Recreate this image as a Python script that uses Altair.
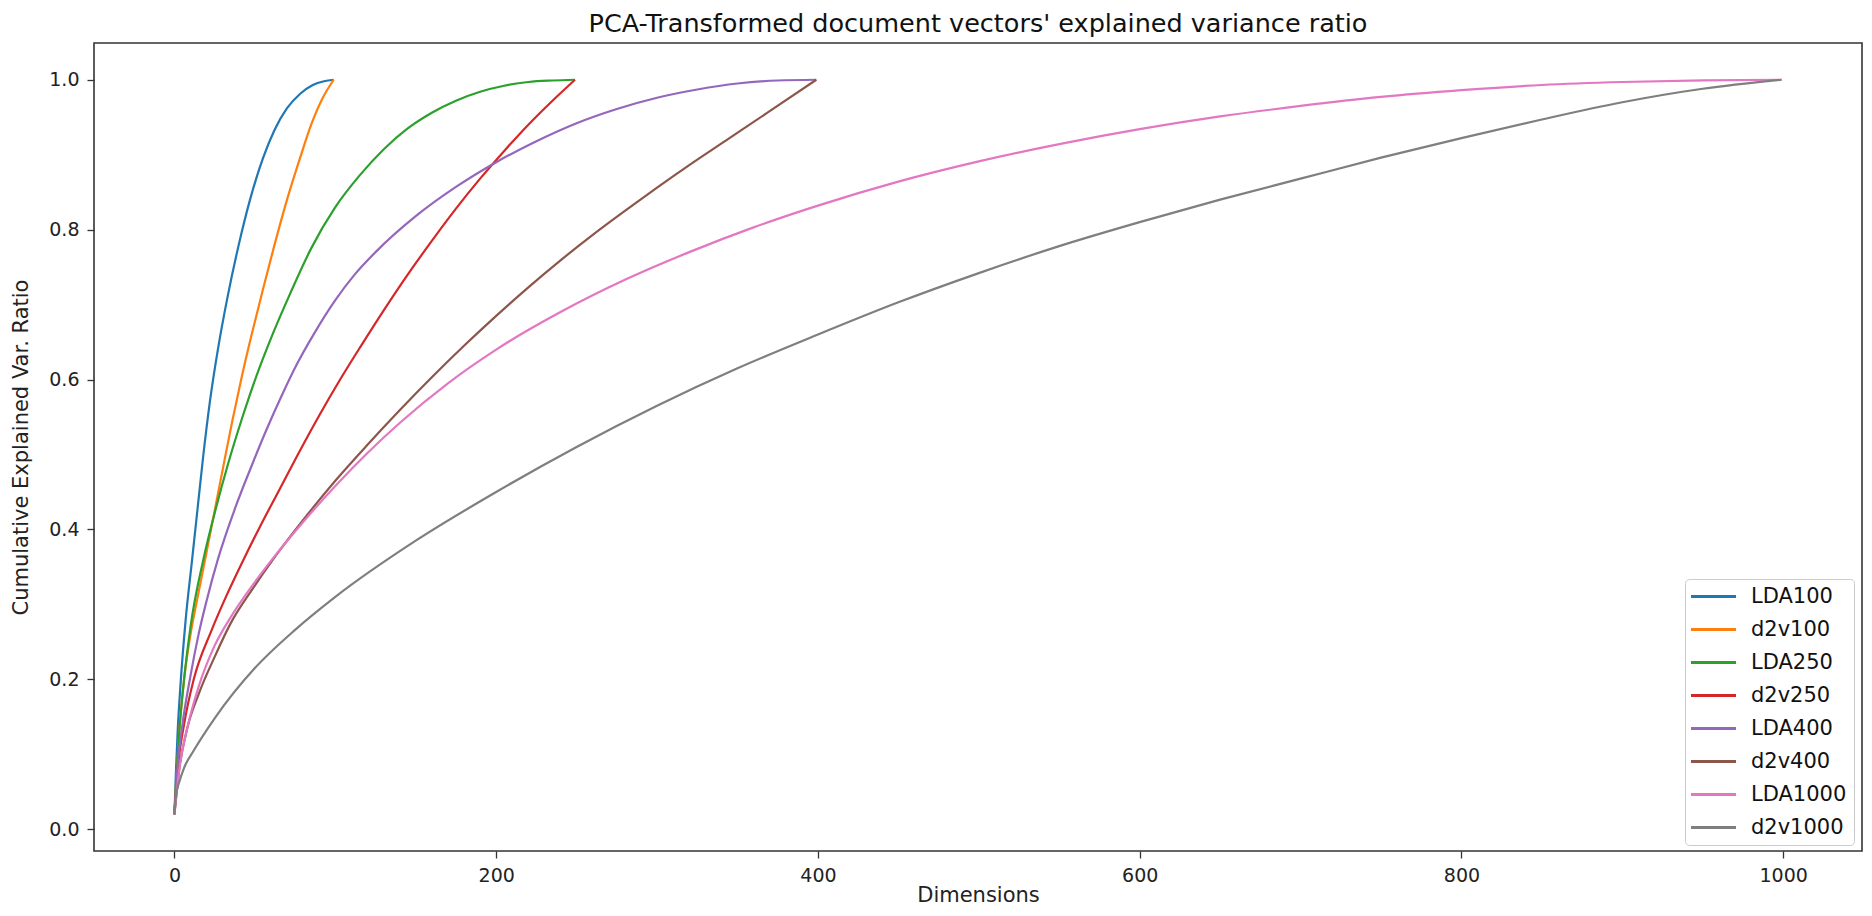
import altair as alt
import pandas as pd

series_names = ["LDA100", "d2v100", "LDA250", "d2v250", "LDA400", "d2v400", "LDA1000", "d2v1000"]
series_colors = ["#1f77b4", "#ff7f0e", "#2ca02c", "#d62728", "#9467bd", "#8c564b", "#e377c2", "#7f7f7f"]

lda100_x = [0, 1, 2, 4, 7, 11, 14, 18, 22, 27, 33, 40, 47, 55, 62, 70, 78, 86, 93, 99]
lda100_y = [0.02, 0.08, 0.13, 0.20, 0.28, 0.36, 0.42, 0.50, 0.57, 0.64, 0.71, 0.78, 0.84, 0.895, 0.932, 0.962, 0.981, 0.993, 0.998, 1.0]

d2v100_x = [0, 1, 3, 6, 10, 14, 20, 25, 30, 36, 42, 48, 55, 62, 70, 78, 85, 92, 99]
d2v100_y = [0.02, 0.06, 0.13, 0.20, 0.26, 0.305, 0.37, 0.425, 0.48, 0.545, 0.605, 0.66, 0.72, 0.778, 0.84, 0.895, 0.94, 0.975, 1.0]

lda250_x = [0, 1, 3, 6, 10, 18, 26, 33, 42, 51, 60, 72, 85, 100, 115, 130, 145, 160, 175, 190, 205, 220, 235, 249]
lda250_y = [0.02, 0.06, 0.13, 0.20, 0.27, 0.36, 0.43, 0.485, 0.548, 0.605, 0.655, 0.715, 0.775, 0.83, 0.872, 0.907, 0.935, 0.956, 0.972, 0.984, 0.992, 0.997, 0.999, 1.0]

d2v250_x = [0, 2, 6, 12, 23, 32, 43, 53, 65, 78, 90, 103, 116, 130, 145, 160, 175, 190, 205, 220, 235, 249]
d2v250_y = [0.02, 0.08, 0.14, 0.20, 0.265, 0.31, 0.36, 0.403, 0.452, 0.505, 0.552, 0.60, 0.645, 0.692, 0.74, 0.785, 0.828, 0.868, 0.905, 0.94, 0.972, 1.0]

lda400_x = [0, 2, 5, 10, 15, 20, 27, 38, 48, 57, 67, 76, 87, 100, 112, 125, 150, 175, 200, 225, 250, 275, 300, 325, 350, 375, 399]
lda400_y = [0.02, 0.085, 0.14, 0.205, 0.26, 0.305, 0.36, 0.43, 0.485, 0.532, 0.58, 0.62, 0.662, 0.706, 0.74, 0.77, 0.818, 0.857, 0.89, 0.918, 0.942, 0.961, 0.976, 0.987, 0.995, 0.999, 1.0]

d2v400_x = [0, 3, 8, 15, 25, 35, 49, 63, 82, 100, 120, 140, 160, 180, 200, 220, 240, 260, 280, 300, 320, 345, 370, 399]
d2v400_y = [0.02, 0.08, 0.135, 0.18, 0.23, 0.275, 0.322, 0.365, 0.418, 0.465, 0.513, 0.559, 0.603, 0.645, 0.685, 0.723, 0.759, 0.793, 0.825, 0.856, 0.886, 0.922, 0.958, 1.0]

lda1000_x = [0, 3, 8, 15, 25, 35, 45, 60, 80, 100, 120, 140, 170, 200, 240, 280, 320, 360, 400, 450, 500, 550, 600, 650, 700, 750, 800, 850, 900, 950, 999]
lda1000_y = [0.02, 0.08, 0.135, 0.19, 0.245, 0.283, 0.315, 0.358, 0.41, 0.458, 0.502, 0.542, 0.595, 0.64, 0.69, 0.733, 0.77, 0.803, 0.832, 0.864, 0.891, 0.914, 0.934, 0.951, 0.965, 0.977, 0.986, 0.993, 0.997, 0.9992, 1.0]

d2v1000_x = [0, 1, 3, 6, 12, 25, 50, 75, 100, 150, 200, 250, 300, 350, 400, 450, 500, 550, 600, 650, 700, 750, 800, 850, 900, 950, 999]
d2v1000_y = [0.02, 0.045, 0.063, 0.082, 0.105, 0.148, 0.215, 0.266, 0.31, 0.385, 0.45, 0.51, 0.565, 0.615, 0.66, 0.703, 0.742, 0.778, 0.81, 0.84, 0.868, 0.896, 0.922, 0.947, 0.97, 0.988, 1.0]

x_ticks = [0, 200, 400, 600, 800, 1000]
y_ticks = [0.0, 0.2, 0.4, 0.6, 0.8, 1.0]

all_x = [lda100_x, d2v100_x, lda250_x, d2v250_x, lda400_x, d2v400_x, lda1000_x, d2v1000_x]
all_y = [lda100_y, d2v100_y, lda250_y, d2v250_y, lda400_y, d2v400_y, lda1000_y, d2v1000_y]

rows = []
for name, xs, ys in zip(series_names, all_x, all_y):
    for xv, yv in zip(xs, ys):
        rows.append({"series": name, "dim": xv, "ratio": yv})
df = pd.DataFrame(rows)

FONT = "DejaVu Sans"

chart = alt.Chart(df).mark_line(strokeWidth=2.2, interpolate="monotone").encode(
    x=alt.X("dim:Q",
            scale=alt.Scale(domain=[-50, 1049], nice=False, zero=False),
            axis=alt.Axis(values=x_ticks, format="d", title="Dimensions",
                          titleY=50, titleBaseline="alphabetic")),
    y=alt.Y("ratio:Q",
            scale=alt.Scale(domain=[-0.029, 1.049], nice=False, zero=False),
            axis=alt.Axis(values=y_ticks, format=".1f", title="Cumulative Explained Var. Ratio",
                          titleX=-73, titleBaseline="middle", titleAlign="center")),
    color=alt.Color("series:N",
                    scale=alt.Scale(domain=series_names, range=series_colors),
                    legend=alt.Legend(title=None, orient="none", legendX=1591, legendY=536,
                                      symbolType="M-2.5,0L2.5,0", symbolSize=324,
                                      symbolStrokeWidth=3, symbolOffset=11, labelOffset=27,
                                      labelFont=FONT, labelFontSize=21, labelColor="#111111",
                                      rowPadding=11, padding=7, strokeColor="#cccccc",
                                      fillColor="rgba(255,255,255,0.85)", cornerRadius=4)),
).properties(
    width=1768,
    height=808,
    autosize=alt.AutoSizeParams(type="none"),
    padding={"left": 86, "top": 35, "right": 2, "bottom": 57},
    title=alt.TitleParams(text="PCA-Transformed document vectors' explained variance ratio",
                          font=FONT, fontSize=25.5, fontWeight="normal", color="#111111",
                          anchor="middle", offset=6),
).configure_view(
    stroke="#333333", strokeWidth=1.6
).configure_axis(
    grid=False, domain=False, tickColor="#333333", tickWidth=1.3, tickSize=7,
    labelFont=FONT, labelFontSize=19, labelColor="#222222", labelPadding=8,
    titleFont=FONT, titleFontSize=21, titleFontWeight="normal", titleColor="#222222"
)

chart.save("out.html", embed_options={"renderer": "svg", "actions": False})
